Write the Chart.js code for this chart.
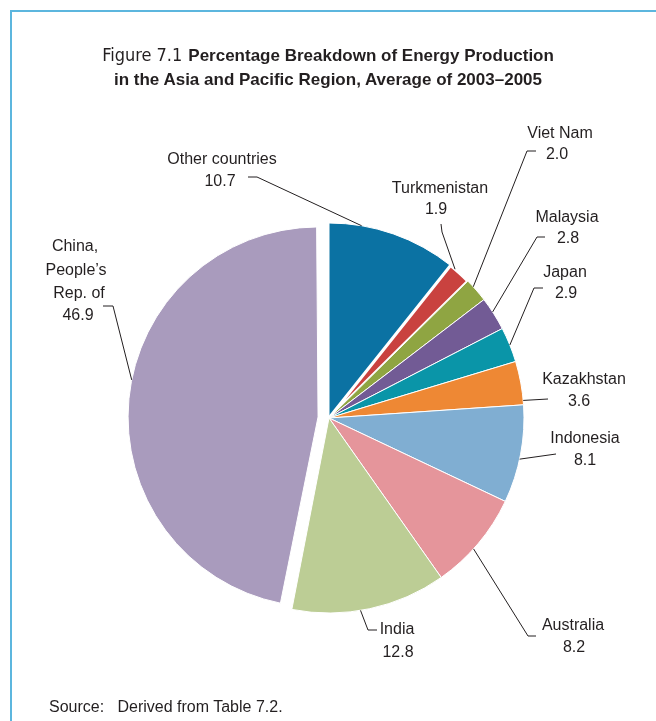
<!DOCTYPE html>
<html><head><meta charset="utf-8">
<script src="https://cdn.jsdelivr.net/npm/chart.js@4.4.0/dist/chart.umd.min.js"></script>
<style>
html,body{margin:0;padding:0;background:#fff;}
#wrap{position:relative;width:656px;height:721px;overflow:hidden;font-family:"Liberation Sans",Arial,sans-serif;color:#231f20;}
#frame{position:absolute;left:10px;top:10px;width:760px;height:800px;border-left:2px solid #5cb6de;border-top:2px solid #5cb6de;}
#title{position:absolute;left:0;width:656px;top:43px;text-align:center;font-size:17px;line-height:24px;font-weight:bold;}
#title .fig{font-family:"Liberation Sans Narrow","DejaVu Sans Condensed",sans-serif;font-weight:normal;font-size:18px;margin-right:6px;}
#source{position:absolute;left:49px;top:698px;font-size:16px;white-space:pre;}
canvas{position:absolute;left:0;top:0;}
</style></head>
<body><div id="wrap">
<div id="frame"></div>
<canvas id="c" width="656" height="721"></canvas>
<div id="title"><span class="fig">Figure 7.1</span>Percentage Breakdown of Energy Production<br>in the Asia and Pacific Region, Average of 2003–2005</div>
<div id="source">Source:   Derived from Table 7.2.</div>
</div>
<script>
// ---- data ----
const categories = ["Other countries","Turkmenistan","Viet Nam","Malaysia","Japan","Kazakhstan","Indonesia","Australia","India","China, People's Rep. of"];
const shares = [10.7, 1.9, 2.0, 2.8, 2.9, 3.6, 8.1, 8.2, 12.8, 46.9];
const nameLines = [["Other countries"],["Turkmenistan"],["Viet Nam"],["Malaysia"],["Japan"],["Kazakhstan"],["Indonesia"],["Australia"],["India"],["China,","People\u2019s","Rep. of"]];
const sliceColors = ["#0b72a3","#c9423f","#8fa542","#725b95","#0a95a8","#ee8834","#80aed2","#e5959b","#bccd95","#a99bbd"];

// ---- styling / layout ----
const PIE_RADIUS = 195;
const sliceOffsets = [0,0,0,0,0,0,0,0,0,44];
const sliceBorders = [1,3,1,1,1,1,1,1,1,1];
const CHINA_SHRINK = 5;
// text line centres and leader elbows; t = position along slice where leader meets the rim
const CALLOUTS = [
  {t:0.25, pos:[[222,160],[220,182]], path:[[248,177],[257,177]]},
  {t:0.25, pos:[[440,189],[436,210]], path:[[441,224],[442,232]]},
  {t:0.32, pos:[[560,134],[557,155]], path:[[536,151],[527,151]]},
  {t:0.44, pos:[[567,218],[568,239]], path:[[545,237],[537,237]]},
  {t:0.51, pos:[[565,273],[566,294]], path:[[543,288],[534,288]]},
  {t:0.90, pos:[[584,380],[579,402]], path:[[548,399]]},
  {t:0.55, pos:[[585,439],[585,461]], path:[[556,454]]},
  {t:0.57, pos:[[573,626],[574,648]], path:[[536,636],[528,636]]},
  {t:0.56, pos:[[397,630],[398,653]], path:[[377,630],[368,630]]},
  {t:0.534, pos:[[75,247],[76,271],[79,294],[78,316]], path:[[103,306],[113,306]]}
];

// Chart.js enlarges an offset arc's radius by (offset/4)*fix; compute that
function arcGeom(arc){
  const p = arc.getProps(['x','y','startAngle','endAngle','outerRadius','circumference'], true);
  const off = (arc.options.offset || 0) / 4;
  const half = (p.startAngle + p.endAngle) / 2;
  const fix = 1 - Math.sin(Math.min(Math.PI, p.circumference || 0));
  return {p, off, half, grow: off * fix};
}

const shrinkPlugin = {
  id:'shrink',
  beforeDatasetDraw(chart){
    const meta = chart.getDatasetMeta(0);
    const last = meta.data[meta.data.length-1];
    if (!last) return;
    const g = arcGeom(last);
    last.outerRadius = PIE_RADIUS - CHINA_SHRINK - g.grow;
  }
};

const calloutPlugin = {
  id:'callouts',
  afterDatasetsDraw(chart){
    const ctx = chart.ctx;
    const meta = chart.getDatasetMeta(0);
    ctx.save();
    ctx.font = '16px "Liberation Sans", Arial, sans-serif';
    ctx.fillStyle = '#231f20';
    ctx.strokeStyle = '#231f20';
    ctx.lineWidth = 1;
    ctx.textAlign = 'center';
    ctx.textBaseline = 'middle';
    categories.forEach((cat, i) => {
      const g = arcGeom(meta.data[i]);
      const p = g.p;
      const cx = p.x + Math.cos(g.half) * g.off;
      const cy = p.y + Math.sin(g.half) * g.off;
      const r = p.outerRadius + g.grow;
      const a = p.startAngle + CALLOUTS[i].t * (p.endAngle - p.startAngle);
      const ax = cx + Math.cos(a) * r;
      const ay = cy + Math.sin(a) * r;
      const pts = CALLOUTS[i].path.concat([[ax, ay]]);
      ctx.beginPath();
      ctx.moveTo(pts[0][0], pts[0][1]);
      for (let k = 1; k < pts.length; k++) ctx.lineTo(pts[k][0], pts[k][1]);
      ctx.stroke();
      const lines = nameLines[i].concat([shares[i].toFixed(1)]);
      lines.forEach((txt, k) => {
        const q = CALLOUTS[i].pos[k];
        ctx.fillText(txt, q[0], q[1]);
      });
    });
    ctx.restore();
  }
};

new Chart(document.getElementById('c'), {
  type: 'pie',
  data: {
    labels: categories,
    datasets: [{
      data: shares,
      backgroundColor: sliceColors,
      borderColor: '#ffffff',
      borderWidth: sliceBorders,
      offset: sliceOffsets,
      radius: PIE_RADIUS
    }]
  },
  options: {
    responsive: false,
    animation: false,
    devicePixelRatio: 1,
    layout: { padding: { left: 132, right: 130, top: 220, bottom: 105 } },
    plugins: { legend: { display: false }, tooltip: { enabled: false }, title: { display: false } },
    events: []
  },
  plugins: [shrinkPlugin, calloutPlugin]
});
</script>
</body></html>
